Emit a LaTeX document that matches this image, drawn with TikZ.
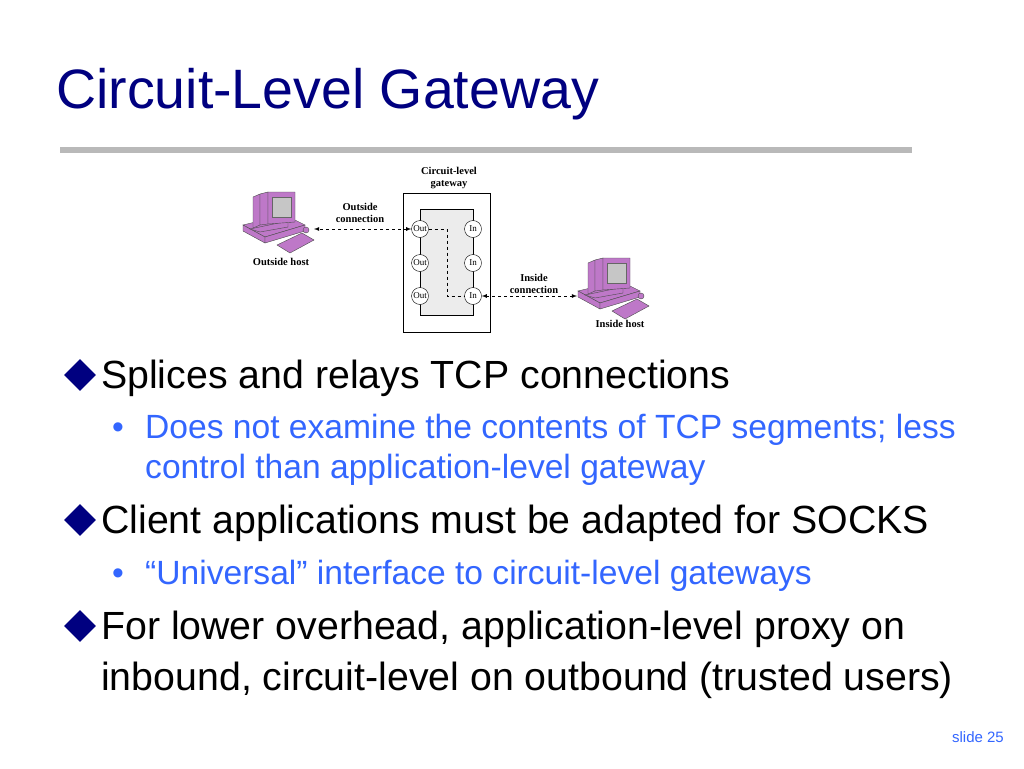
\documentclass[tikz,border=0pt]{standalone}
\usepackage{fontspec}
\usetikzlibrary{shapes.geometric}
\setmainfont{Liberation Sans}
\newfontfamily\serifb{Liberation Serif}
\begin{document}
\begin{tikzpicture}[x=1pt,y=-1pt,
 lbl/.style={font=\serifb\bfseries\fontsize{10.5}{11.5}\selectfont,align=center,inner sep=1pt},
 port/.style={circle,draw,fill=white,minimum size=17pt,inner sep=0pt,font=\serifb\fontsize{9}{9}\selectfont},
 conn/.style={dashed,thick,latex-latex},
 dia/.style={diamond,fill=navy,minimum size=32pt,inner sep=0pt},
 main/.style={anchor=base west,font=\fontsize{39.3}{39.3}\selectfont,text=black,inner sep=0pt},
 sub/.style={anchor=base west,font=\fontsize{33.6}{33.6}\selectfont,text=subblue,inner sep=0pt},
 pc/.style={draw=black!70,fill=pcpurple,line width=0.4pt}]
\definecolor{navy}{RGB}{0,0,128}
\definecolor{subblue}{RGB}{51,102,255}
\definecolor{pcpurple}{RGB}{190,120,200}
\useasboundingbox (0,0) rectangle (1024,768);
\fill[white] (0,0) rectangle (1024,768);
\node[anchor=base west,text=navy,font=\fontsize{55.5}{55.5}\selectfont,inner sep=0pt] (title) at (56,108) {Circuit-Level Gateway};
\fill[gray!55] (60,147) rectangle (912,153);
% gateway
\draw[thick] (403,193) rectangle (490,332);
\draw[fill=gray!15] (420,209) rectangle (473,315);
\node[lbl] (gwl) at (449,178) {Circuit-level\\gateway};
\foreach \i/\y in {1/229,2/263,3/296}{
 \node[port] (o\i) at (420,\y) {Out};
 \node[port] (n\i) at (473,\y) {In};}
\draw[dashed,thick] (o1.east) -- (447,229) -- (447,296) -- (n3.west);
% computers
\foreach \nm/\cx/\cy in {lp/240/185,rp/575/251}{
\begin{scope}[shift={(\cx,\cy)}]
 \draw[pc] (3,40) -- (45,30) -- (65,40) -- (25,52) -- cycle;
 \draw[pc] (3,40) -- (25,52) -- (25,58) -- (3,46) -- cycle;
 \draw[pc] (25,52) -- (65,40) -- (65,46) -- (25,58) -- cycle;
 \draw[pc] (10,44) -- (20,47) -- (48,42) -- (48,36) -- cycle;
 \draw[pc] (13,12) -- (20,9) -- (20,40) -- (13,43) -- cycle;
 \draw[pc] (20,9) -- (28,7) -- (28,39) -- (20,40) -- cycle;
 \draw[pc] (28,7) -- (55,7) -- (55,37) -- (28,39) -- cycle;
 \draw[fill=gray!45,draw=black!60] (32,12) rectangle (51,32);
 \draw[pc] (37,60) -- (62,48) -- (74,55) -- (50,68) -- cycle;
 \draw[pc] (66,45) circle (3);
 \coordinate (\nm) at (37,36);
\end{scope}}
\node[lbl] (ohl) at (281,262) {Outside host};
\node[lbl] (ihl) at (620,324) {Inside host};
\node[lbl] (ocl) at (360,213) {Outside\\connection};
\node[lbl] (icl) at (534,284) {Inside\\connection};
\coordinate (lpe) at (314,229);
\coordinate (rpe) at (577,296);
\draw[conn] (o1.west) -- (lpe);
\draw[conn] (n3.east) -- (rpe);
% text
\node[dia] (d1) at (80,375) {};
\node[main] (t1) at (101,388) {Splices and relays TCP connections};
\node[sub] (b1) at (112,438) {\textbullet};
\node[sub] (t2) at (145,438) {Does not examine the contents of TCP segments; less};
\node[sub] (t2b) at (145,478) {control than application-level gateway};
\node[dia] (d2) at (80,520) {};
\node[main] (t3) at (101,533) {Client applications must be adapted for SOCKS};
\node[sub] (b2) at (112,584) {\textbullet};
\node[sub] (t4) at (145,584) {“Universal” interface to circuit-level gateways};
\node[dia] (d3) at (80,626) {};
\node[main] (t5) at (101,639) {For lower overhead, application-level proxy on};
\node[main] (t6) at (101,690) {inbound, circuit-level on outbound (trusted users)};
\node[anchor=base east,text=subblue,font=\fontsize{15}{15}\selectfont,inner sep=0pt] (sl) at (1004,742) {slide 25};
\end{tikzpicture}
\end{document}
